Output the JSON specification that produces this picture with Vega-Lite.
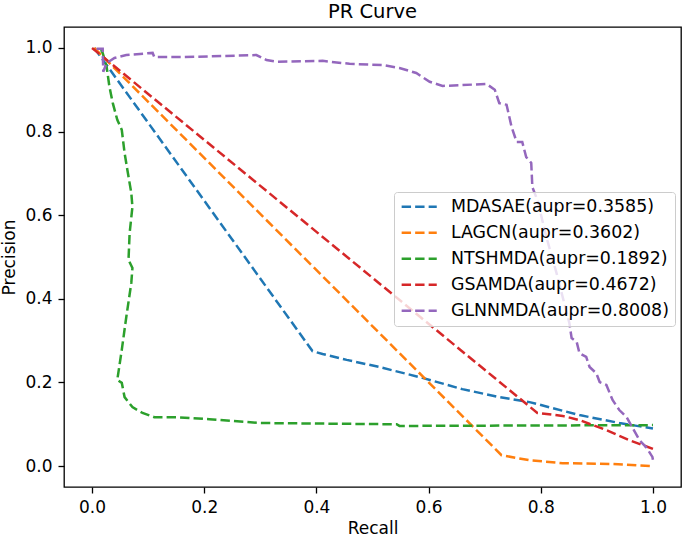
{
  "$schema": "https://vega.github.io/schema/vega-lite/v6.json",
  "description": "PR Curve",
  "width": 617,
  "height": 460,
  "autosize": {"type": "none"},
  "padding": {"left": 64, "top": 27, "right": 4, "bottom": 51},
  "background": "white",
  "title": {
    "text": "PR Curve",
    "font": "DejaVu Sans",
    "fontSize": 19.5,
    "fontWeight": "normal",
    "color": "black",
    "frame": "group",
    "anchor": "middle",
    "offset": 5
  },
  "data": {
    "values": [
      {"m": "MDASAE(aupr=0.3585)", "i": 0, "r": 0.004, "p": 1.0},
      {"m": "MDASAE(aupr=0.3585)", "i": 1, "r": 0.393, "p": 0.275},
      {"m": "MDASAE(aupr=0.3585)", "i": 2, "r": 0.411, "p": 0.268},
      {"m": "MDASAE(aupr=0.3585)", "i": 3, "r": 0.454, "p": 0.254},
      {"m": "MDASAE(aupr=0.3585)", "i": 4, "r": 0.512, "p": 0.237},
      {"m": "MDASAE(aupr=0.3585)", "i": 5, "r": 0.589, "p": 0.211},
      {"m": "MDASAE(aupr=0.3585)", "i": 6, "r": 0.66, "p": 0.184},
      {"m": "MDASAE(aupr=0.3585)", "i": 7, "r": 0.726, "p": 0.165},
      {"m": "MDASAE(aupr=0.3585)", "i": 8, "r": 0.78, "p": 0.153},
      {"m": "MDASAE(aupr=0.3585)", "i": 9, "r": 0.869, "p": 0.122},
      {"m": "MDASAE(aupr=0.3585)", "i": 10, "r": 0.94, "p": 0.103},
      {"m": "MDASAE(aupr=0.3585)", "i": 11, "r": 1.0, "p": 0.09},

      {"m": "LAGCN(aupr=0.3602)", "i": 0, "r": 0.004, "p": 1.0},
      {"m": "LAGCN(aupr=0.3602)", "i": 1, "r": 0.73, "p": 0.026},
      {"m": "LAGCN(aupr=0.3602)", "i": 2, "r": 0.78, "p": 0.014},
      {"m": "LAGCN(aupr=0.3602)", "i": 3, "r": 0.839, "p": 0.007},
      {"m": "LAGCN(aupr=0.3602)", "i": 4, "r": 0.928, "p": 0.005},
      {"m": "LAGCN(aupr=0.3602)", "i": 5, "r": 1.0, "p": 0.0},

      {"m": "NTSHMDA(aupr=0.1892)", "i": 0, "r": 0.016, "p": 0.995},
      {"m": "NTSHMDA(aupr=0.1892)", "i": 1, "r": 0.019, "p": 0.988},
      {"m": "NTSHMDA(aupr=0.1892)", "i": 2, "r": 0.026, "p": 0.955},
      {"m": "NTSHMDA(aupr=0.1892)", "i": 3, "r": 0.031, "p": 0.907},
      {"m": "NTSHMDA(aupr=0.1892)", "i": 4, "r": 0.037, "p": 0.868},
      {"m": "NTSHMDA(aupr=0.1892)", "i": 5, "r": 0.045, "p": 0.828},
      {"m": "NTSHMDA(aupr=0.1892)", "i": 6, "r": 0.053, "p": 0.804},
      {"m": "NTSHMDA(aupr=0.1892)", "i": 7, "r": 0.058, "p": 0.749},
      {"m": "NTSHMDA(aupr=0.1892)", "i": 8, "r": 0.063, "p": 0.708},
      {"m": "NTSHMDA(aupr=0.1892)", "i": 9, "r": 0.07, "p": 0.653},
      {"m": "NTSHMDA(aupr=0.1892)", "i": 10, "r": 0.072, "p": 0.62},
      {"m": "NTSHMDA(aupr=0.1892)", "i": 11, "r": 0.067, "p": 0.557},
      {"m": "NTSHMDA(aupr=0.1892)", "i": 12, "r": 0.065, "p": 0.493},
      {"m": "NTSHMDA(aupr=0.1892)", "i": 13, "r": 0.072, "p": 0.474},
      {"m": "NTSHMDA(aupr=0.1892)", "i": 14, "r": 0.07, "p": 0.438},
      {"m": "NTSHMDA(aupr=0.1892)", "i": 15, "r": 0.061, "p": 0.356},
      {"m": "NTSHMDA(aupr=0.1892)", "i": 16, "r": 0.053, "p": 0.278},
      {"m": "NTSHMDA(aupr=0.1892)", "i": 17, "r": 0.045, "p": 0.206},
      {"m": "NTSHMDA(aupr=0.1892)", "i": 18, "r": 0.053, "p": 0.199},
      {"m": "NTSHMDA(aupr=0.1892)", "i": 19, "r": 0.058, "p": 0.165},
      {"m": "NTSHMDA(aupr=0.1892)", "i": 20, "r": 0.072, "p": 0.141},
      {"m": "NTSHMDA(aupr=0.1892)", "i": 21, "r": 0.09, "p": 0.127},
      {"m": "NTSHMDA(aupr=0.1892)", "i": 22, "r": 0.111, "p": 0.117},
      {"m": "NTSHMDA(aupr=0.1892)", "i": 23, "r": 0.151, "p": 0.117},
      {"m": "NTSHMDA(aupr=0.1892)", "i": 24, "r": 0.209, "p": 0.112},
      {"m": "NTSHMDA(aupr=0.1892)", "i": 25, "r": 0.299, "p": 0.103},
      {"m": "NTSHMDA(aupr=0.1892)", "i": 26, "r": 0.543, "p": 0.1},
      {"m": "NTSHMDA(aupr=0.1892)", "i": 27, "r": 0.548, "p": 0.096},
      {"m": "NTSHMDA(aupr=0.1892)", "i": 28, "r": 1.0, "p": 0.098},

      {"m": "GSAMDA(aupr=0.4672)", "i": 0, "r": 0.0, "p": 1.0},
      {"m": "GSAMDA(aupr=0.4672)", "i": 1, "r": 0.794, "p": 0.127},
      {"m": "GSAMDA(aupr=0.4672)", "i": 2, "r": 0.839, "p": 0.12},
      {"m": "GSAMDA(aupr=0.4672)", "i": 3, "r": 0.869, "p": 0.11},
      {"m": "GSAMDA(aupr=0.4672)", "i": 4, "r": 0.917, "p": 0.086},
      {"m": "GSAMDA(aupr=0.4672)", "i": 5, "r": 0.958, "p": 0.062},
      {"m": "GSAMDA(aupr=0.4672)", "i": 6, "r": 1.0, "p": 0.041},

      {"m": "GLNNMDA(aupr=0.8008)", "i": 0, "r": 0.008, "p": 0.998},
      {"m": "GLNNMDA(aupr=0.8008)", "i": 1, "r": 0.019, "p": 0.998},
      {"m": "GLNNMDA(aupr=0.8008)", "i": 2, "r": 0.02, "p": 0.943},
      {"m": "GLNNMDA(aupr=0.8008)", "i": 3, "r": 0.026, "p": 0.964},
      {"m": "GLNNMDA(aupr=0.8008)", "i": 4, "r": 0.04, "p": 0.976},
      {"m": "GLNNMDA(aupr=0.8008)", "i": 5, "r": 0.061, "p": 0.983},
      {"m": "GLNNMDA(aupr=0.8008)", "i": 6, "r": 0.108, "p": 0.988},
      {"m": "GLNNMDA(aupr=0.8008)", "i": 7, "r": 0.111, "p": 0.978},
      {"m": "GLNNMDA(aupr=0.8008)", "i": 8, "r": 0.147, "p": 0.978},
      {"m": "GLNNMDA(aupr=0.8008)", "i": 9, "r": 0.161, "p": 0.978},
      {"m": "GLNNMDA(aupr=0.8008)", "i": 10, "r": 0.293, "p": 0.983},
      {"m": "GLNNMDA(aupr=0.8008)", "i": 11, "r": 0.311, "p": 0.971},
      {"m": "GLNNMDA(aupr=0.8008)", "i": 12, "r": 0.329, "p": 0.967},
      {"m": "GLNNMDA(aupr=0.8008)", "i": 13, "r": 0.411, "p": 0.969},
      {"m": "GLNNMDA(aupr=0.8008)", "i": 14, "r": 0.459, "p": 0.962},
      {"m": "GLNNMDA(aupr=0.8008)", "i": 15, "r": 0.518, "p": 0.959},
      {"m": "GLNNMDA(aupr=0.8008)", "i": 16, "r": 0.548, "p": 0.952},
      {"m": "GLNNMDA(aupr=0.8008)", "i": 17, "r": 0.578, "p": 0.94},
      {"m": "GLNNMDA(aupr=0.8008)", "i": 18, "r": 0.602, "p": 0.919},
      {"m": "GLNNMDA(aupr=0.8008)", "i": 19, "r": 0.625, "p": 0.909},
      {"m": "GLNNMDA(aupr=0.8008)", "i": 20, "r": 0.66, "p": 0.911},
      {"m": "GLNNMDA(aupr=0.8008)", "i": 21, "r": 0.703, "p": 0.914},
      {"m": "GLNNMDA(aupr=0.8008)", "i": 22, "r": 0.718, "p": 0.9},
      {"m": "GLNNMDA(aupr=0.8008)", "i": 23, "r": 0.726, "p": 0.868},
      {"m": "GLNNMDA(aupr=0.8008)", "i": 24, "r": 0.739, "p": 0.864},
      {"m": "GLNNMDA(aupr=0.8008)", "i": 25, "r": 0.748, "p": 0.811},
      {"m": "GLNNMDA(aupr=0.8008)", "i": 26, "r": 0.757, "p": 0.775},
      {"m": "GLNNMDA(aupr=0.8008)", "i": 27, "r": 0.767, "p": 0.775},
      {"m": "GLNNMDA(aupr=0.8008)", "i": 28, "r": 0.774, "p": 0.739},
      {"m": "GLNNMDA(aupr=0.8008)", "i": 29, "r": 0.783, "p": 0.725},
      {"m": "GLNNMDA(aupr=0.8008)", "i": 30, "r": 0.785, "p": 0.667},
      {"m": "GLNNMDA(aupr=0.8008)", "i": 31, "r": 0.794, "p": 0.636},
      {"m": "GLNNMDA(aupr=0.8008)", "i": 32, "r": 0.81, "p": 0.548},
      {"m": "GLNNMDA(aupr=0.8008)", "i": 33, "r": 0.828, "p": 0.462},
      {"m": "GLNNMDA(aupr=0.8008)", "i": 34, "r": 0.851, "p": 0.342},
      {"m": "GLNNMDA(aupr=0.8008)", "i": 35, "r": 0.855, "p": 0.306},
      {"m": "GLNNMDA(aupr=0.8008)", "i": 36, "r": 0.864, "p": 0.297},
      {"m": "GLNNMDA(aupr=0.8008)", "i": 37, "r": 0.869, "p": 0.27},
      {"m": "GLNNMDA(aupr=0.8008)", "i": 38, "r": 0.881, "p": 0.261},
      {"m": "GLNNMDA(aupr=0.8008)", "i": 39, "r": 0.887, "p": 0.237},
      {"m": "GLNNMDA(aupr=0.8008)", "i": 40, "r": 0.899, "p": 0.222},
      {"m": "GLNNMDA(aupr=0.8008)", "i": 41, "r": 0.905, "p": 0.201},
      {"m": "GLNNMDA(aupr=0.8008)", "i": 42, "r": 0.917, "p": 0.194},
      {"m": "GLNNMDA(aupr=0.8008)", "i": 43, "r": 0.928, "p": 0.158},
      {"m": "GLNNMDA(aupr=0.8008)", "i": 44, "r": 0.94, "p": 0.134},
      {"m": "GLNNMDA(aupr=0.8008)", "i": 45, "r": 0.953, "p": 0.117},
      {"m": "GLNNMDA(aupr=0.8008)", "i": 46, "r": 0.963, "p": 0.093},
      {"m": "GLNNMDA(aupr=0.8008)", "i": 47, "r": 0.976, "p": 0.062},
      {"m": "GLNNMDA(aupr=0.8008)", "i": 48, "r": 0.988, "p": 0.045},
      {"m": "GLNNMDA(aupr=0.8008)", "i": 49, "r": 0.999, "p": 0.022},
      {"m": "GLNNMDA(aupr=0.8008)", "i": 50, "r": 1.0, "p": 0.015}
    ]
  },
  "mark": {
    "type": "line",
    "strokeWidth": 2.5,
    "strokeDash": [9.4, 4.1],
    "interpolate": "linear",
    "clip": true
  },
  "encoding": {
    "x": {
      "field": "r",
      "type": "quantitative",
      "scale": {"domain": [-0.05, 1.05], "nice": false, "zero": false},
      "axis": {
        "title": "Recall",
        "values": [0, 0.2, 0.4, 0.6, 0.8, 1.0],
        "format": ".1f",
        "labelPadding": 6,
        "titlePadding": 5
      }
    },
    "y": {
      "field": "p",
      "type": "quantitative",
      "scale": {"domain": [-0.05, 1.05], "nice": false, "zero": false},
      "axis": {
        "title": "Precision",
        "values": [0, 0.2, 0.4, 0.6, 0.8, 1.0],
        "format": ".1f",
        "labelPadding": 6,
        "titlePadding": 6
      }
    },
    "color": {
      "field": "m",
      "type": "nominal",
      "scale": {
        "domain": [
          "MDASAE(aupr=0.3585)",
          "LAGCN(aupr=0.3602)",
          "NTSHMDA(aupr=0.1892)",
          "GSAMDA(aupr=0.4672)",
          "GLNNMDA(aupr=0.8008)"
        ],
        "range": ["#1f77b4", "#ff7f0e", "#2ca02c", "#d62728", "#9467bd"]
      },
      "legend": {
        "title": null,
        "orient": "none",
        "legendX": 330,
        "legendY": 165,
        "padding": 6,
        "strokeColor": "#cccccc",
        "fillColor": "rgba(255,255,255,0.8)",
        "cornerRadius": 3,
        "labelFont": "DejaVu Sans",
        "labelFontSize": 17.4,
        "labelColor": "black",
        "labelLimit": 0,
        "symbolType": "M-3,0H3",
        "symbolSize": 137,
        "symbolOffset": 10.5,
        "symbolStrokeWidth": 2.5,
        "symbolDash": [9.4, 4.1],
        "labelOffset": 23,
        "rowPadding": 7
      }
    },
    "order": {"field": "i", "type": "quantitative"}
  },
  "config": {
    "view": {"stroke": "black", "strokeWidth": 1.3},
    "axis": {
      "grid": false,
      "domain": false,
      "labelFont": "DejaVu Sans",
      "labelFontSize": 17,
      "labelColor": "black",
      "tickColor": "black",
      "tickSize": 6,
      "tickWidth": 1.3,
      "titleFont": "DejaVu Sans",
      "titleFontSize": 17,
      "titleFontWeight": "normal",
      "titleColor": "black"
    }
  }
}
